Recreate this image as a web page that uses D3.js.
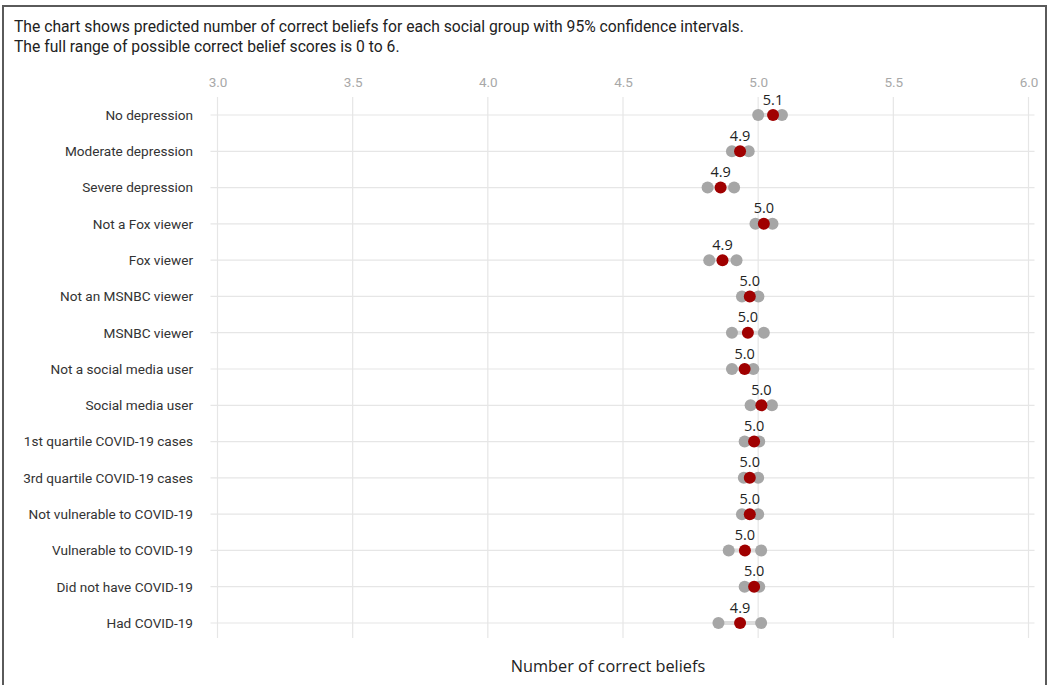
<!DOCTYPE html>
<html>
<head>
<meta charset="utf-8">
<script src="https://cdn.jsdelivr.net/npm/d3@7"></script>
<style>
  html, body { margin: 0; padding: 0; background: #fff; }
  svg { display: block; }
</style>
</head>
<body>
<script>
// Social groups, top to bottom
const groups = [
  "No depression", "Moderate depression", "Severe depression",
  "Not a Fox viewer", "Fox viewer",
  "Not an MSNBC viewer", "MSNBC viewer",
  "Not a social media user", "Social media user",
  "1st quartile COVID-19 cases", "3rd quartile COVID-19 cases",
  "Not vulnerable to COVID-19", "Vulnerable to COVID-19",
  "Did not have COVID-19", "Had COVID-19"
];
// Predicted number of correct beliefs
const predicted = [5.055, 4.933, 4.861, 5.021, 4.868, 4.969, 4.962, 4.95, 5.012, 4.985, 4.969, 4.969, 4.951, 4.985, 4.933];
// 95% confidence interval bounds
const lower = [5.0, 4.903, 4.813, 4.99, 4.819, 4.94, 4.903, 4.903, 4.972, 4.95, 4.947, 4.94, 4.891, 4.95, 4.853];
const upper = [5.088, 4.965, 4.911, 5.053, 4.92, 5.001, 5.021, 4.982, 5.051, 5.004, 5.0, 5.0, 5.011, 5.004, 5.011];
// Axis ticks
const xTicks = [3.0, 3.5, 4.0, 4.5, 5.0, 5.5, 6.0];

const W = 1049, H = 685;
const svg = d3.select("body").append("svg").attr("width", W).attr("height", H);

// Frame
svg.append("rect").attr("x", 3).attr("y", 6).attr("width", 1043).attr("height", 700)
  .attr("fill", "none").attr("stroke", "#5a5a5a").attr("stroke-width", 2);

// Caption
const cap = svg.append("text").attr("font-family", "Roboto, sans-serif").attr("font-size", 15.7).attr("fill", "#222");
cap.append("tspan").attr("x", 14).attr("y", 32).text("The chart shows predicted number of correct beliefs for each social group with 95% confidence intervals.");
cap.append("tspan").attr("x", 14).attr("y", 52).text("The full range of possible correct belief scores is 0 to 6.");

const x = d3.scaleLinear().domain([3, 6]).range([217.5, 1028.5]);
const y = d3.scalePoint().domain(groups).range([115, 623]);

const gridTop = 97, gridBottom = 638;

// Vertical grid
svg.append("g").selectAll("line").data(xTicks).join("line")
  .attr("x1", d => x(d)).attr("x2", d => x(d))
  .attr("y1", gridTop).attr("y2", gridBottom)
  .attr("stroke", "#e6e6e6").attr("stroke-width", 1.2);

// Horizontal grid
svg.append("g").selectAll("line").data(groups).join("line")
  .attr("x1", x(3) - 7).attr("x2", x(6) + 6)
  .attr("y1", d => y(d)).attr("y2", d => y(d))
  .attr("stroke", "#e6e6e6").attr("stroke-width", 1.2);

// Top axis labels
const xAxis = d3.axisTop(x).tickValues(xTicks).tickFormat(d3.format(".1f")).tickSize(0).tickPadding(0);
const ax = svg.append("g").attr("transform", "translate(0,87)").call(xAxis);
ax.select(".domain").remove();
ax.selectAll("text").attr("font-family", "Roboto, sans-serif").attr("font-size", 13.5).attr("fill", "#a8a8a8");

// Group labels
const yAxis = d3.axisLeft(y).tickSize(0).tickPadding(0);
const ay = svg.append("g").attr("transform", "translate(193,0)").call(yAxis);
ay.select(".domain").remove();
ay.selectAll("text").attr("font-family", "Roboto, sans-serif").attr("font-size", 13.6).attr("fill", "#333");

const rows = groups.map((g, i) => ({ g, p: predicted[i], lo: lower[i], hi: upper[i] }));
const marks = svg.append("g");

// CI bars
marks.selectAll("line.ci").data(rows).join("line").attr("class", "ci")
  .attr("x1", d => x(d.lo)).attr("x2", d => x(d.hi))
  .attr("y1", d => y(d.g)).attr("y2", d => y(d.g))
  .attr("stroke", "#dcdcdc").attr("stroke-width", 4);

// CI end points
marks.selectAll("circle.lo").data(rows).join("circle").attr("class", "lo")
  .attr("cx", d => x(d.lo)).attr("cy", d => y(d.g)).attr("r", 6).attr("fill", "#a6a6a6");
marks.selectAll("circle.hi").data(rows).join("circle").attr("class", "hi")
  .attr("cx", d => x(d.hi)).attr("cy", d => y(d.g)).attr("r", 6).attr("fill", "#a6a6a6");

// Predicted values
marks.selectAll("circle.pt").data(rows).join("circle").attr("class", "pt")
  .attr("cx", d => x(d.p)).attr("cy", d => y(d.g)).attr("r", 6).attr("fill", "#a00000");

// Value labels
marks.selectAll("text.val").data(rows).join("text").attr("class", "val")
  .attr("x", d => x(d.p)).attr("y", d => y(d.g) - 10.5)
  .attr("text-anchor", "middle")
  .attr("font-family", "'Open Sans', sans-serif").attr("font-size", 14.5).attr("fill", "#222")
  .text(d => d3.format(".1f")(d.p));

// Axis title
svg.append("text").attr("x", 608).attr("y", 672).attr("text-anchor", "middle")
  .attr("font-family", "'Open Sans', sans-serif").attr("font-size", 16.3).attr("fill", "#222")
  .text("Number of correct beliefs");
</script>
</body>
</html>
